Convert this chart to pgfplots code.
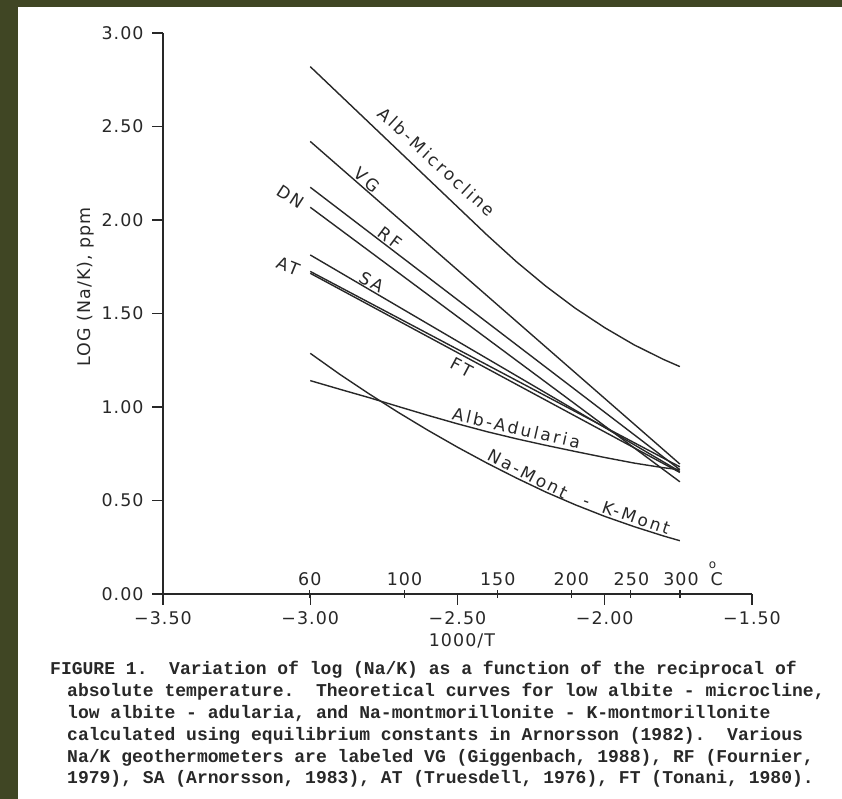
\documentclass[border=0pt]{standalone}
\usepackage{pgfplots}
\pgfplotsset{compat=1.18}
\usepackage{fontspec}
\newfontfamily\plotfont[LetterSpace=6]{DejaVu Sans}
\newfontfamily\curvefont[LetterSpace=15]{DejaVu Sans}
\newfontfamily\capfont{Liberation Mono}
\definecolor{frame}{RGB}{64,70,36}
\definecolor{ink}{RGB}{40,40,40}

\begin{document}
\begin{tikzpicture}[x=1bp,y=1bp, curve/.style={ink, solid, line width=1.4bp, mark=none}]
\useasboundingbox (0,0) rectangle (842,799);
\fill[frame] (0,0) rectangle (842,799);
\fill[white] (18,0) rectangle (842,792);

\begin{axis}[
  at={(163bp,205bp)}, anchor=south west,
  scale only axis, width=589bp, height=561bp,
  xmin=-3.5, xmax=-1.5, ymin=0, ymax=3,
  axis lines*=left,
  axis line style={ink, line width=1.3bp},
  tick align=outside, major tick length=11bp,
  tick style={ink, line width=1.3bp},
  xtick={-3.5,-3,-2.5,-2,-1.5},
  xticklabels={−3.50,−3.00,−2.50,−2.00,−1.50},
  ytick={0,0.5,1,1.5,2,2.5,3},
  yticklabels={0.00,0.50,1.00,1.50,2.00,2.50,3.00},
  ticklabel style={font=\plotfont\fontsize{17.5}{20}\selectfont, text=ink},
  xticklabel style={yshift=-3bp},
  yticklabel style={xshift=-5bp},
  % temperature marks (60, 100, 150, 200, 250, 300 degC) on the 1000/T scale
  extra x ticks={-3.0016,-2.6799,-2.3632,-2.1135,-1.9115,-1.7448},
  extra x tick labels={},
  extra x tick style={tick align=center, major tick length=8bp},
  clip=false,
]

% theoretical mineral equilibria
\addplot[curve] coordinates {(-3.00,2.82) (-2.90,2.67) (-2.80,2.52) (-2.70,2.37)
  (-2.60,2.22) (-2.50,2.07) (-2.40,1.92) (-2.30,1.777) (-2.20,1.646)
  (-2.10,1.528) (-2.00,1.424) (-1.90,1.332) (-1.80,1.254) (-1.745,1.216)};
\addplot[curve] coordinates {(-3.00,1.141) (-2.90,1.095) (-2.80,1.05) (-2.70,1.002)
  (-2.60,0.955) (-2.50,0.91) (-2.40,0.868) (-2.30,0.83) (-2.20,0.795)
  (-2.10,0.762) (-2.00,0.73) (-1.90,0.70) (-1.80,0.675) (-1.745,0.665)};
\addplot[curve] coordinates {(-3.00,1.287) (-2.90,1.175) (-2.80,1.07) (-2.70,0.97)
  (-2.60,0.875) (-2.50,0.785) (-2.40,0.70) (-2.30,0.62) (-2.20,0.545)
  (-2.10,0.477) (-2.00,0.415) (-1.90,0.36) (-1.80,0.31) (-1.745,0.285)};

% empirical Na/K geothermometers (straight in 1000/T)
\addplot[curve] coordinates {(-3.00,2.420) (-1.745,0.695)}; % VG
\addplot[curve] coordinates {(-3.00,2.175) (-1.745,0.665)}; % RF
\addplot[curve] coordinates {(-3.00,2.068) (-1.745,0.600)}; % DN
\addplot[curve] coordinates {(-3.00,1.813) (-1.745,0.655)}; % SA
\addplot[curve] coordinates {(-3.00,1.715) (-1.745,0.650)}; % AT
\addplot[curve] coordinates {(-3.00,1.725) (-1.745,0.680)}; % FT

% curve labels
\begin{scope}[every node/.style={font=\curvefont\fontsize{17}{20}\selectfont, text=ink, inner sep=0pt}]
\node[rotate=-42.5] at (axis cs:-2.570,2.310) {Alb-Microcline};
\node[rotate=-40] at (axis cs:-2.806,2.214) {VG};
\node[rotate=-37] at (axis cs:-2.729,1.904) {RF};
\node[rotate=-33] at (axis cs:-3.067,2.123) {DN};
\node[rotate=-30] at (axis cs:-2.792,1.668) {SA};
\node[rotate=-22] at (axis cs:-3.075,1.751) {AT};
\node[rotate=-28] at (axis cs:-2.486,1.211) {FT};
\node[rotate=-13] at (axis cs:-2.300,0.888) {Alb-Adularia};
\node[rotate=-27] at (axis cs:-2.262,0.642) {Na-Mont};
\node[rotate=-19] at (axis cs:-1.926,0.425) {-\hspace{14bp}K-Mont};
\end{scope}

% temperature scale labels
\begin{scope}[every node/.style={font=\plotfont\fontsize{17.5}{20}\selectfont, text=ink, inner sep=0pt}]
\node at (axis cs:-3.0016,0) [yshift=15bp] {60};
\node at (axis cs:-2.6799,0) [yshift=15bp] {100};
\node at (axis cs:-2.3632,0) [yshift=15bp] {150};
\node at (axis cs:-2.1135,0) [yshift=15bp] {200};
\node at (axis cs:-1.9095,0) [yshift=15bp] {250};
\node at (axis cs:-1.7410,0) [yshift=15bp] {300};
\node at (axis cs:-1.620,0) [yshift=15bp] {C};
\node[font=\plotfont\fontsize{12}{12}\selectfont] at (axis cs:-1.634,0) [yshift=29bp] {o};
\node at (axis cs:-2.485,0) [yshift=-47bp] {1000/T};
\node[rotate=90] at (axis cs:-3.7615,1.642) {LOG (Na/K), ppm};
\end{scope}
\end{axis}

% caption
\begin{scope}[every node/.style={font=\capfont\bfseries\fontsize{18.1}{20}\selectfont, text=ink, anchor=base west, inner sep=0pt}]
\node at (50,124) {FIGURE 1.\ \ Variation of log (Na/K) as a function of the reciprocal of};
\node at (67,102.2) {absolute temperature.\ \ Theoretical curves for low albite - microcline,};
\node at (67,80.4) {low albite - adularia, and Na-montmorillonite - K-montmorillonite};
\node at (67,58.6) {calculated using equilibrium constants in Arnorsson (1982).\ \ Various};
\node at (67,36.8) {Na/K geothermometers are labeled VG (Giggenbach, 1988), RF (Fournier,};
\node at (67,15) {1979), SA (Arnorsson, 1983), AT (Truesdell, 1976), FT (Tonani, 1980).};
\end{scope}
\end{tikzpicture}
\end{document}
